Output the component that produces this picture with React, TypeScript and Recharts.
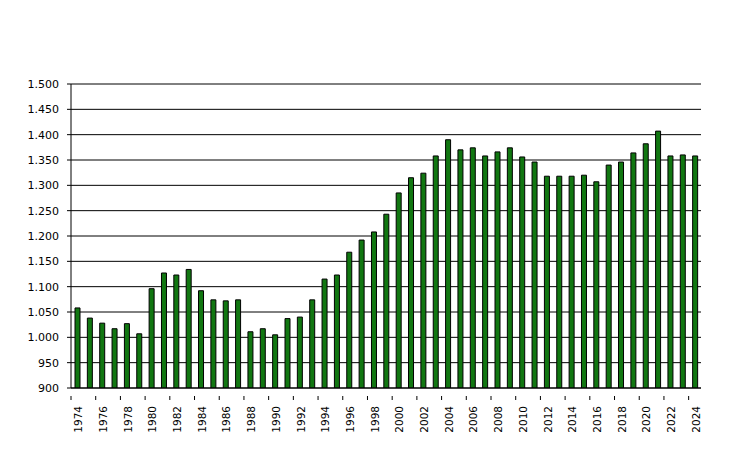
import React from 'react';
import { BarChart, Bar, XAxis, YAxis, CartesianGrid } from 'recharts';

const years = [
  1974, 1975, 1976, 1977, 1978, 1979, 1980, 1981, 1982, 1983, 1984, 1985, 1986,
  1987, 1988, 1989, 1990, 1991, 1992, 1993, 1994, 1995, 1996, 1997, 1998, 1999,
  2000, 2001, 2002, 2003, 2004, 2005, 2006, 2007, 2008, 2009, 2010, 2011, 2012,
  2013, 2014, 2015, 2016, 2017, 2018, 2019, 2020, 2021, 2022, 2023, 2024,
];

const values = [
  1058, 1038, 1028, 1017, 1027, 1007, 1096, 1127, 1123, 1134, 1092, 1074, 1072,
  1074, 1011, 1017, 1005, 1037, 1040, 1074, 1115, 1123, 1168, 1192, 1208, 1243,
  1285, 1315, 1324, 1358, 1390, 1370, 1374, 1358, 1366, 1374, 1356, 1346, 1318,
  1318, 1318, 1320, 1307, 1340, 1346, 1364, 1382, 1407, 1358, 1360, 1358,
];

const yTicks = [900, 950, 1000, 1050, 1100, 1150, 1200, 1250, 1300, 1350, 1400, 1450, 1500];

const data = years.map((y, i) => ({ year: String(y), value: values[i] }));

const FONT = '"DejaVu Sans", Verdana, sans-serif';
const PLOT_LEFT = 71;
const PLOT_RIGHT = 701;
const BAND = (PLOT_RIGHT - PLOT_LEFT) / years.length;

const fmt = (v: number) => (v >= 1000 ? `${Math.floor(v / 1000)}.${String(v % 1000).padStart(3, '0')}` : String(v));

function YearTick(props: any) {
  const { x, y, payload } = props;
  return (
    <g>
      <line x1={x - BAND / 2} x2={x - BAND / 2} y1={y} y2={y + 4} stroke="#000" />
      <text
        transform={`translate(${x + 1},${y + 10}) rotate(-90)`}
        textAnchor="end"
        dominantBaseline="central"
        fontSize={10.5}
        fontFamily={FONT}
        fill="#000"
      >
        {payload.value}
      </text>
    </g>
  );
}

export default function App() {
  return (
    <div style={{ width: 731, height: 454 }}>
      <style>{'body{margin:0}'}</style>
      <BarChart
        width={731}
        height={454}
        data={data}
        margin={{ top: 84, right: 731 - PLOT_RIGHT, bottom: 0, left: 0 }}
        barCategoryGap="30%"
      >
        <CartesianGrid vertical={false} stroke="#000" strokeWidth={1} />
        <XAxis
          dataKey="year"
          height={66}
          interval={1}
          axisLine={{ stroke: '#000' }}
          tickLine={false}
          tick={<YearTick />}
        />
        <YAxis
          width={PLOT_LEFT}
          domain={[900, 1500]}
          ticks={yTicks}
          allowDataOverflow
          tickFormatter={fmt}
          axisLine={{ stroke: '#000' }}
          tickLine={{ stroke: '#000' }}
          tickSize={4}
          tickMargin={8}
          tick={{ fill: '#000', fontSize: 11, fontFamily: FONT }}
        />
        <Bar
          dataKey="value"
          fill="#117711"
          stroke="#000"
          strokeWidth={1}
          barSize={5}
          isAnimationActive={false}
        />
      </BarChart>
    </div>
  );
}
